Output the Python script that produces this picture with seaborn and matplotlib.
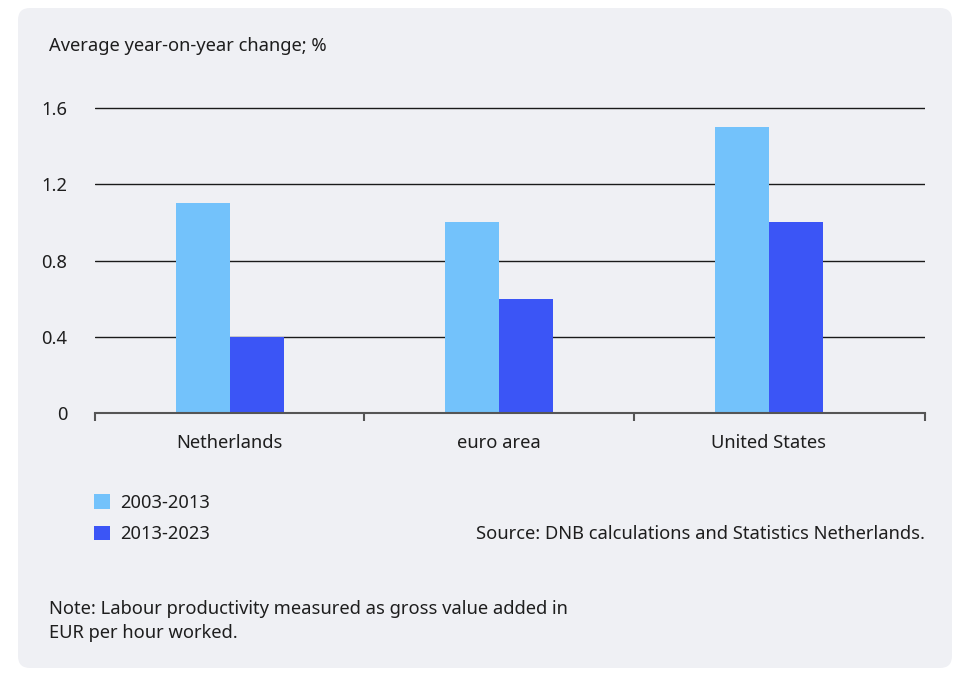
import matplotlib
matplotlib.use("Agg")
import matplotlib.pyplot as plt
from matplotlib.patches import FancyBboxPatch, Patch
from matplotlib.transforms import IdentityTransform
import seaborn as sns
import pandas as pd

# ---- data ----
categories = ["Netherlands", "euro area", "United States"]
periods = ["2003-2013", "2013-2023"]
values_2003_2013 = [1.1, 1.0, 1.5]
values_2013_2023 = [0.4, 0.6, 1.0]
yticks = [0, 0.4, 0.8, 1.2, 1.6]
ytick_labels = ["0", "0.4", "0.8", "1.2", "1.6"]
title = "Average year-on-year change; %"
source = "Source: DNB calculations and Statistics Netherlands."
note = "Note: Labour productivity measured as gross value added in\nEUR per hour worked."

df = pd.DataFrame({
    "country": categories * 2,
    "period": [periods[0]] * len(categories) + [periods[1]] * len(categories),
    "value": values_2003_2013 + values_2013_2023,
})

LIGHT = "#73c2fb"
DARK = "#3b55f6"
BG = "#eff0f4"
TXT = "#1e1e1e"
FS = 13.2

sns.set_theme(style="white")
plt.rcParams['font.family'] = ['Noto Sans', 'DejaVu Sans']

W, H = 955, 673
fig = plt.figure(figsize=(W / 100, H / 100), dpi=100)
fig.patch.set_facecolor("white")

panel = FancyBboxPatch((18, H - 668), 934, 660,
                       boxstyle="round,pad=0,rounding_size=12",
                       transform=IdentityTransform(), facecolor=BG,
                       edgecolor="none", zorder=-10)
fig.patches.append(panel)

# axes placement in pixels
ax_left, ax_right = 95, 925
y0_px, y16_px = 413, 108
ppu = (y0_px - y16_px) / 1.6
ytop = 1.62
ax_h = ytop * ppu
ax = fig.add_axes([ax_left / W, (H - y0_px) / H, (ax_right - ax_left) / W, ax_h / H])
ax.set_facecolor("none")
ax.set_zorder(5)

sns.barplot(data=df, x="country", y="value", hue="period",
            palette=[LIGHT, DARK], width=0.4, saturation=1,
            ax=ax, legend=False, zorder=3, linewidth=0, edgecolor="none")

ax.set_xlim(-0.5, 2.58)
ax.set_ylim(0, ytop)
ax.set_xlabel("")
ax.set_ylabel("")

for s in ["top", "right", "left"]:
    ax.spines[s].set_visible(False)
ax.spines["bottom"].set_color("#555555")
ax.spines["bottom"].set_linewidth(1.5)
ax.spines["bottom"].set_zorder(4)

ax.set_yticks(yticks)
ax.set_yticklabels(ytick_labels)
ax.tick_params(axis="y", length=0, pad=20, labelsize=FS, labelcolor=TXT)
ax.yaxis.grid(True, color="#1a1a1a", linewidth=1.0, zorder=0)
ax.set_axisbelow(True)

ax.set_xticks(range(len(categories)))
ax.set_xticklabels(categories)
ax.tick_params(axis="x", which="major", length=0, pad=15, labelsize=FS, labelcolor=TXT)
ax.set_xticks([-0.5, 0.5, 1.5, 2.58], minor=True)
ax.tick_params(axis="x", which="minor", bottom=True, length=6, width=1.5,
               color="#555555", direction="out")

fig.text(49 / W, 1 - 46 / H, title, fontsize=FS, color=TXT, va="center", ha="left")

handles = [Patch(facecolor=c, edgecolor="none") for c in [LIGHT, DARK]]
fig.legend(handles=handles, labels=periods, loc="upper left",
           bbox_to_anchor=(85 / W, 1 - 485 / H), frameon=False,
           fontsize=FS, handlelength=0.875, handleheight=0.875,
           handletextpad=0.55, labelspacing=0.72, borderpad=0,
           labelcolor=TXT)

fig.text(925 / W, 1 - 534 / H, source, fontsize=FS, color=TXT, ha="right", va="center")
fig.text(49 / W, 1 - 621 / H, note, fontsize=FS, color=TXT, ha="left", va="center",
         linespacing=1.45)

fig.savefig("out.png", dpi=100, facecolor=fig.get_facecolor())
